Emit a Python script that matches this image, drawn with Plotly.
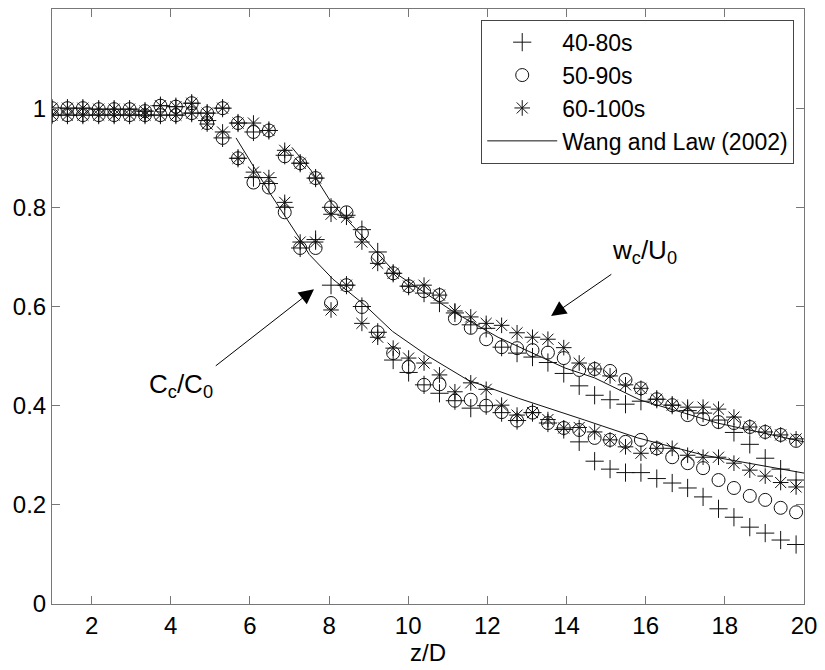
import plotly.graph_objects as go

# z/D positions of the measurement stations
z = [1.00, 1.39, 1.78, 2.18, 2.57, 2.96, 3.35, 3.74, 4.13, 4.53,
     4.92, 5.31, 5.70, 6.09, 6.48, 6.88, 7.27, 7.66, 8.05, 8.44,
     8.83, 9.23, 9.62, 10.01, 10.40, 10.79, 11.18, 11.58, 11.97, 12.36,
     12.75, 13.14, 13.53, 13.93, 14.32, 14.71, 15.10, 15.49, 15.88, 16.28,
     16.67, 17.06, 17.45, 17.84, 18.23, 18.63, 19.02, 19.41, 19.80]

# centreline velocity w_c/U_0
w_40_80 = [1.00, 1.00, 1.00, 0.998, 0.998, 0.998, 0.994, 1.005, 1.003, 1.01,
           0.99, 1.00, 0.97, 0.952, 0.955, 0.905, 0.889, 0.859, 0.80, 0.784,
           0.755, 0.71, 0.667, 0.641, 0.627, 0.607, 0.587, 0.563, 0.556, 0.518,
           0.506, 0.498, 0.487, 0.465, 0.44, 0.421, 0.412, 0.403, 0.409, 0.413,
           0.401, 0.39, 0.385, 0.371, 0.346, 0.322, 0.294, 0.272, 0.25]
w_50_90 = [1.00, 1.00, 1.00, 0.998, 0.998, 0.998, 0.994, 1.005, 1.003, 1.01,
           0.99, 1.00, 0.97, 0.952, 0.955, 0.903, 0.889, 0.859, 0.80, 0.79,
           0.748, 0.697, 0.667, 0.641, 0.631, 0.623, 0.576, 0.557, 0.534, 0.518,
           0.516, 0.512, 0.507, 0.496, 0.472, 0.474, 0.47, 0.452, 0.435, 0.413,
           0.401, 0.381, 0.373, 0.367, 0.365, 0.357, 0.347, 0.341, 0.329]
w_60_100 = [1.00, 1.00, 1.00, 0.998, 0.998, 0.998, 0.994, 1.005, 1.003, 1.01,
            0.99, 1.00, 0.97, 0.97, 0.955, 0.915, 0.889, 0.859, 0.786, 0.78,
            0.73, 0.687, 0.667, 0.641, 0.643, 0.623, 0.591, 0.579, 0.566, 0.562,
            0.547, 0.538, 0.534, 0.517, 0.486, 0.474, 0.46, 0.442, 0.435, 0.413,
            0.401, 0.397, 0.397, 0.393, 0.377, 0.357, 0.347, 0.341, 0.333]

# centreline concentration C_c/C_0
c_40_80 = [0.986, 0.986, 0.986, 0.986, 0.986, 0.986, 0.986, 0.986, 0.986, 0.99,
           0.975, 0.94, 0.899, 0.86, 0.848, 0.80, 0.718, 0.735, 0.643, 0.643,
           0.60, 0.548, 0.492, 0.467, 0.442, 0.425, 0.41, 0.395, 0.40, 0.386,
           0.37, 0.386, 0.365, 0.352, 0.327, 0.288, 0.272, 0.265, 0.265, 0.253,
           0.244, 0.234, 0.216, 0.192, 0.175, 0.155, 0.143, 0.129, 0.12]
c_50_90 = [0.986, 0.986, 0.986, 0.986, 0.986, 0.986, 0.986, 0.986, 0.986, 0.99,
           0.97, 0.94, 0.899, 0.85, 0.84, 0.79, 0.718, 0.718, 0.607, 0.643,
           0.599, 0.548, 0.506, 0.478, 0.442, 0.443, 0.41, 0.412, 0.40, 0.387,
           0.37, 0.386, 0.365, 0.355, 0.351, 0.335, 0.331, 0.327, 0.331, 0.314,
           0.296, 0.284, 0.274, 0.25, 0.234, 0.218, 0.21, 0.194, 0.185]
c_60_100 = [0.986, 0.986, 0.986, 0.986, 0.986, 0.986, 0.986, 0.986, 0.986, 0.99,
            0.968, 0.952, 0.899, 0.871, 0.86, 0.81, 0.73, 0.73, 0.593, 0.643,
            0.566, 0.538, 0.516, 0.496, 0.486, 0.462, 0.428, 0.446, 0.433, 0.401,
            0.381, 0.386, 0.372, 0.355, 0.356, 0.347, 0.331, 0.317, 0.304, 0.314,
            0.314, 0.30, 0.296, 0.296, 0.284, 0.27, 0.258, 0.245, 0.236]

# Wang and Law (2002) curves
wl_w_z = [7.06, 7.54, 8.07, 8.93, 9.68, 10.44, 11.19, 12.27, 13.10, 13.96,
          14.71, 15.87, 16.98, 17.81, 20.0]
wl_w = [0.921, 0.875, 0.808, 0.734, 0.667, 0.627, 0.587, 0.538, 0.508, 0.476,
        0.456, 0.411, 0.385, 0.365, 0.327]
wl_c_z = [5.65, 6.48, 7.25, 7.5, 8.1, 8.9, 9.6, 10.5, 11.5, 12.78,
          14.46, 15.8, 17.48, 20.0]
wl_c = [0.94, 0.832, 0.738, 0.705, 0.655, 0.603, 0.55, 0.50, 0.452, 0.415,
        0.371, 0.335, 0.30, 0.264]

series = [
    ("40-80s", w_40_80, c_40_80, "cross-thin-open", 13),
    ("50-90s", w_50_90, c_50_90, "circle-open", 13),
    ("60-100s", w_60_100, c_60_100, "asterisk-open", 13),
]

fig = go.Figure()
for name, wv, cv, sym, sz in series:
    for k, vals in enumerate((wv, cv)):
        fig.add_trace(go.Scatter(
            x=z, y=vals, mode="markers", name=name, legendgroup=name,
            showlegend=(k == 0),
            marker=dict(symbol=sym, size=sz, color="#111111",
                        line=dict(color="#111111", width=1)),
        ))

fig.add_trace(go.Scatter(x=wl_w_z, y=wl_w, mode="lines", name="Wang and Law (2002)",
                         legendgroup="wl", line=dict(color="#111111", width=1)))
fig.add_trace(go.Scatter(x=wl_c_z, y=wl_c, mode="lines", name="Wang and Law (2002)",
                         legendgroup="wl", showlegend=False,
                         line=dict(color="#111111", width=1)))

font_family = "Liberation Sans, Arial, sans-serif"

fig.add_annotation(x=13.61, y=0.581, ax=15.17, ay=0.667, axref="x", ayref="y",
                   xref="x", yref="y", text="", showarrow=True, arrowhead=2,
                   arrowsize=3, arrowwidth=1, arrowcolor="black")
fig.add_annotation(x=7.62, y=0.635, ax=5.10, ay=0.478, axref="x", ayref="y",
                   xref="x", yref="y", text="", showarrow=True, arrowhead=2,
                   arrowsize=3, arrowwidth=1, arrowcolor="black")
fig.add_annotation(x=15.97, y=0.71, xref="x", yref="y", showarrow=False,
                   text="w<sub>c</sub>/U<sub>0</sub>",
                   font=dict(family=font_family, size=26, color="black"))
fig.add_annotation(x=4.27, y=0.44, xref="x", yref="y", showarrow=False,
                   text="C<sub>c</sub>/C<sub>0</sub>",
                   font=dict(family=font_family, size=26, color="black"))

axis_common = dict(showline=True, linecolor="#777777", linewidth=1, mirror="ticks",
                   ticks="inside", ticklen=8, tickcolor="#777777", tickwidth=1,
                   showgrid=False, zeroline=False,
                   tickfont=dict(family=font_family, size=24, color="black"))

fig.update_layout(
    width=825, height=670,
    margin=dict(l=52, r=18, t=8, b=66),
    paper_bgcolor="white", plot_bgcolor="white",
    font=dict(family=font_family, size=24, color="black"),
    showlegend=True,
    legend=dict(x=0.987, y=0.982, xanchor="right", yanchor="top",
                bgcolor="white", bordercolor="#444444", borderwidth=1,
                font=dict(family=font_family, size=23, color="black"),
                tracegroupgap=0, itemwidth=70),
    xaxis=dict(range=[1, 20], tickvals=[2, 4, 6, 8, 10, 12, 14, 16, 18, 20],
               title=dict(text="z/D", standoff=4,
                          font=dict(family=font_family, size=24, color="black")),
               **axis_common),
    yaxis=dict(range=[0, 1.2], tickvals=[0, 0.2, 0.4, 0.6, 0.8, 1],
               ticktext=["0", "0.2", "0.4", "0.6", "0.8", "1"],
               **axis_common),
)

fig.write_html("out.html")
